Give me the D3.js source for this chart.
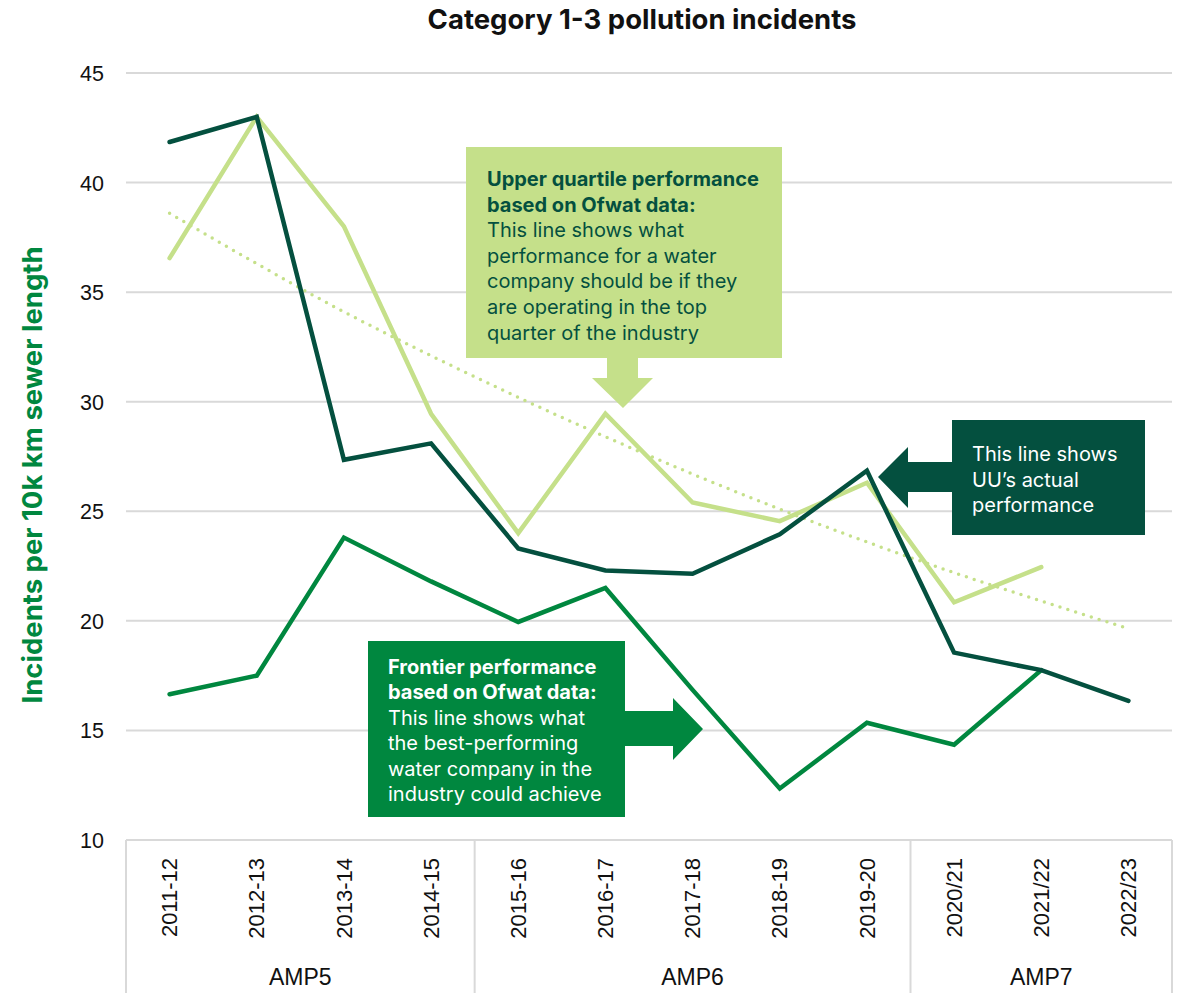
<!DOCTYPE html>
<html><head><meta charset="utf-8">
<script src="https://cdn.jsdelivr.net/npm/d3@7/dist/d3.min.js"></script>
<style>
html,body{margin:0;padding:0;background:#fff;}
svg{display:block;}
</style></head>
<body>
<svg id="chart" width="1186" height="993"></svg>
<script>
const categories = ["2011-12","2012-13","2013-14","2014-15","2015-16","2016-17","2017-18","2018-19","2019-20","2020/21","2021/22","2022/23"];
const groups = ["AMP5","AMP6","AMP7"];
const groupSizes = [4,5,3];
const uuActual = [41.85,43.0,27.35,28.1,23.3,22.3,22.15,23.95,26.85,18.55,17.75,16.35];
const upperQuartile = [36.55,43.0,38.0,29.45,24.0,29.45,25.4,24.55,26.3,20.85,22.45,null];
const frontier = [16.65,17.5,23.8,21.8,19.95,21.5,16.85,12.35,15.35,14.35,17.75,null];
const trendValues = [38.6,36.3,34.1,32.1,30.2,28.4,26.7,25.1,23.6,22.2,20.9,19.65];
const yTicks = [10,15,20,25,30,35,40,45];
const titleText = "Category 1-3 pollution incidents";
const yTitleText = "Incidents per 10k km sewer length";
const uqNote = {bold:["Upper quartile performance","based on Ofwat data:"], normal:["This line shows what","performance for a water","company should be if they","are operating in the top","quarter of the industry"]};
const uuNote = {bold:[], normal:["This line shows","UU\u2019s actual","performance"]};
const frNote = {bold:["Frontier performance","based on Ofwat data:"], normal:["This line shows what","the best-performing","water company in the","industry could achieve"]};

const C_DARK="#04503f", C_LIGHT="#c5e08a", C_MID="#00873f";
const FONT="Inter, 'Noto Sans', sans-serif";
const AXFONT="'Liberation Sans', Arial, sans-serif";

const svg=d3.select("#chart");
const x=d3.scaleBand().domain(categories).range([126,1172]).padding(0);
const cx=c=>x(c)+x.bandwidth()/2;
const y=d3.scaleLinear().domain([10,45]).range([840,73]);

// title
svg.append("text").attr("x",642).attr("y",29).attr("text-anchor","middle")
  .attr("font-family",FONT).attr("font-weight",700).attr("font-size",27.5).attr("fill","#111").text(titleText);
// y title
svg.append("text").attr("transform","translate(42,475) rotate(-90)").attr("text-anchor","middle")
  .attr("font-family",FONT).attr("font-weight",700).attr("font-size",27.5).attr("fill",C_MID).text(yTitleText);

// grid + y axis
const yAxis=d3.axisLeft(y).tickValues(yTicks).tickSize(0).tickPadding(0);
const gy=svg.append("g").attr("transform","translate(104,0)").call(yAxis);
gy.select(".domain").remove();
gy.selectAll("text").attr("font-family",AXFONT).attr("font-size",21.5).attr("fill","#111").attr("dy","0.35em");
svg.append("g").selectAll("line").data(yTicks).join("line")
  .attr("x1",126).attr("x2",1172).attr("y1",d=>y(d)).attr("y2",d=>y(d))
  .attr("stroke","#d9d9d9").attr("stroke-width",2);

// x axis labels
const xAxis=d3.axisBottom(x).tickSize(0).tickPadding(0);
const gx=svg.append("g").attr("transform","translate(0,840)").call(xAxis);
gx.select(".domain").remove();
gx.selectAll("text").attr("font-family",AXFONT).attr("font-size",22).attr("fill","#111")
  .attr("transform","rotate(-90)").attr("text-anchor","end").attr("x",-18).attr("y",0).attr("dy","0.35em");

// group separators and labels
let idx=0;
const bounds=[];
groups.forEach((g,i)=>{const s=idx, e=idx+groupSizes[i]-1; bounds.push({g,s,e}); idx+=groupSizes[i];});
const sepX=[x(categories[0])].concat(bounds.map(b=>x(categories[b.e])+x.bandwidth()));
svg.append("g").selectAll("line").data(sepX).join("line")
  .attr("x1",d=>d).attr("x2",d=>d).attr("y1",840).attr("y2",993)
  .attr("stroke","#d9d9d9").attr("stroke-width",2);
svg.append("g").selectAll("text").data(bounds).join("text")
  .attr("x",b=>(x(categories[b.s])+x(categories[b.e])+x.bandwidth())/2).attr("y",985)
  .attr("text-anchor","middle").attr("font-family",AXFONT).attr("font-size",23).attr("fill","#111").text(b=>b.g);

// lines
const lineGen=d3.line().defined(d=>d.v!=null).x(d=>cx(d.c)).y(d=>y(d.v));
const series=(vals)=>categories.map((c,i)=>({c,v:vals[i]}));
svg.append("path").datum(series(trendValues)).attr("d",lineGen.curve(d3.curveMonotoneX)(series(trendValues)))
  .attr("fill","none").attr("stroke",C_LIGHT).attr("stroke-width",3.5).attr("stroke-linecap","round").attr("stroke-dasharray","0 8.2");
lineGen.curve(d3.curveLinear);
svg.append("path").datum(series(upperQuartile)).attr("d",lineGen)
  .attr("fill","none").attr("stroke",C_LIGHT).attr("stroke-width",4.5).attr("stroke-linecap","round");
svg.append("path").datum(series(frontier)).attr("d",lineGen)
  .attr("fill","none").attr("stroke",C_MID).attr("stroke-width",4.5).attr("stroke-linecap","round");
svg.append("path").datum(series(uuActual)).attr("d",lineGen)
  .attr("fill","none").attr("stroke",C_DARK).attr("stroke-width",4.5).attr("stroke-linecap","round");

// annotation boxes
function note(box,fill,color,lines,tx,ty0,lh){
  svg.append("rect").attr("x",box[0]).attr("y",box[1]).attr("width",box[2]-box[0]).attr("height",box[3]-box[1]).attr("fill",fill);
  const all=lines.bold.map(t=>({t,b:true})).concat(lines.normal.map(t=>({t,b:false})));
  svg.append("g").selectAll("text").data(all).join("text")
    .attr("x",tx).attr("y",(d,i)=>ty0+i*lh).attr("font-family",FONT).attr("font-size",20)
    .attr("font-weight",d=>d.b?700:400).attr("fill",color).text(d=>d.t);
}
note([466,147,782,358],C_LIGHT,C_DARK,uqNote,487,186,25.6);
svg.append("path").attr("d","M607,357 L638,357 L638,378 L653,378 L623,408 L592,378 L607,378 Z").attr("fill",C_LIGHT);
note([952,420,1145,535],C_DARK,"#fff",uuNote,972,461,25.6);
svg.append("path").attr("d","M953,462 L908,462 L908,447 L878,477 L908,508 L908,492 L953,492 Z").attr("fill",C_DARK);
note([368,641,625,817],C_MID,"#fff",frNote,388,674,25.4);
svg.append("path").attr("d","M624,711 L673,711 L673,698 L703,729 L673,760 L673,746 L624,746 Z").attr("fill",C_MID);
</script>
</body></html>
